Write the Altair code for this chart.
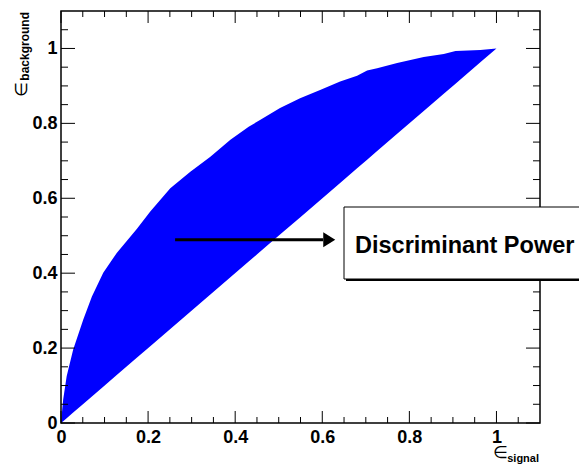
import altair as alt
import pandas as pd

# ROC-like upper boundary of the blue region (signal eff., background eff.)
curve_x = [0.0, 0.005, 0.013, 0.028, 0.051, 0.071, 0.097, 0.128, 0.174, 0.205,
           0.251, 0.297, 0.343, 0.389, 0.431, 0.457, 0.503, 0.549, 0.595, 0.641,
           0.680, 0.703, 0.726, 0.772, 0.833, 0.879, 0.906, 0.963, 1.0]
curve_y = [0.0, 0.063, 0.125, 0.196, 0.276, 0.338, 0.401, 0.454, 0.518, 0.565,
           0.627, 0.671, 0.711, 0.756, 0.791, 0.809, 0.841, 0.867, 0.889, 0.912,
           0.927, 0.941, 0.947, 0.961, 0.977, 0.985, 0.993, 0.996, 1.0]

major_ticks = [0.0, 0.2, 0.4, 0.6, 0.8, 1.0]
minor_ticks = [0.05, 0.1, 0.15, 0.25, 0.3, 0.35, 0.45, 0.5, 0.55, 0.65, 0.7, 0.75,
               0.85, 0.9, 0.95, 1.05]
axis_domain = [0.0, 1.1]

arrow_start = [0.262, 0.489]
arrow_end = [0.602, 0.489]
arrow_tip = [0.616, 0.489]

label_text = "Discriminant Power"
x_title = ["\u2208", "signal"]
y_title = ["\u2208", "background"]

W, H = 479, 412
FONT = "Liberation Sans"

df = pd.DataFrame({"x": curve_x, "upper": curve_y, "lower": curve_x})

xaxis = alt.Axis(values=major_ticks, format="~g", title=None, ticks=False, tickSize=0,
                 domain=False, grid=False, labelFont=FONT, labelFontWeight="bold",
                 labelFontSize=18, labelColor="black", labelPadding=5,
                 labelFlush=False, labelOverlap=False)
yaxis = alt.Axis(values=major_ticks, format="~g", title=None, ticks=False, tickSize=0,
                 domain=False, grid=False, labelFont=FONT, labelFontWeight="bold",
                 labelFontSize=18, labelColor="black", labelPadding=4,
                 labelFlush=False, labelOverlap=False)
xs = alt.Scale(domain=axis_domain, nice=False, zero=False)
ys = alt.Scale(domain=axis_domain, nice=False, zero=False)


def X(f):
    return alt.X(f, type="quantitative", scale=xs, axis=xaxis)


def Y(f):
    return alt.Y(f, type="quantitative", scale=ys, axis=yaxis)


area = alt.Chart(df).mark_area(color="#0000ff", opacity=1, interpolate="linear").encode(
    x=X("x"), y=Y("upper"), y2="lower")

one = pd.DataFrame({"a": [0]})

layers = [area]

# ticks (inside the frame, all four sides)
for vals, L_b, L_l in [(major_ticks, 12, 14), (minor_ticks, 6, 7)]:
    tdf = pd.DataFrame({"v": vals})
    layers.append(alt.Chart(tdf).mark_rule(color="black", strokeWidth=1).encode(
        x=X("v"), y=alt.value(H), y2=alt.value(H - L_b)))
    layers.append(alt.Chart(tdf).mark_rule(color="black", strokeWidth=1).encode(
        x=X("v"), y=alt.value(0), y2=alt.value(L_b)))
    layers.append(alt.Chart(tdf).mark_rule(color="black", strokeWidth=1).encode(
        y=Y("v"), x=alt.value(0), x2=alt.value(L_l)))
    layers.append(alt.Chart(tdf).mark_rule(color="black", strokeWidth=1).encode(
        y=Y("v"), x=alt.value(W), x2=alt.value(W - L_l)))

# frame
layers.append(alt.Chart(one).mark_rect(fillOpacity=0, stroke="black", strokeWidth=1.5).encode(
    x=alt.value(0), x2=alt.value(W), y=alt.value(0), y2=alt.value(H)))

# arrow
adf = pd.DataFrame({"x": [arrow_start[0]], "x2": [arrow_end[0]], "y": [arrow_start[1]]})
layers.append(alt.Chart(adf).mark_rule(color="black", strokeWidth=3).encode(
    x=X("x"), x2="x2", y=Y("y")))
hdf = pd.DataFrame({"x": [arrow_tip[0]], "y": [arrow_tip[1]]})
layers.append(alt.Chart(hdf).mark_point(shape="M-0.8,-1L0.8,0L-0.8,1Z", size=225, filled=True,
                                        color="black", opacity=1, strokeWidth=0).encode(
    x=X("x"), y=Y("y")))

# label box with shadow
layers.append(alt.Chart(one).mark_rect(color="black").encode(
    x=alt.value(285), x2=alt.value(620), y=alt.value(198), y2=alt.value(270)))
layers.append(alt.Chart(one).mark_rect(fill="white", stroke="black", strokeWidth=1).encode(
    x=alt.value(283), x2=alt.value(620), y=alt.value(196), y2=alt.value(268)))
layers.append(alt.Chart(one).mark_text(text=label_text, align="left", baseline="alphabetic",
                                       font=FONT, fontSize=23.5, fontWeight="bold",
                                       color="black").encode(
    x=alt.value(294), y=alt.value(242)))

# axis titles
layers.append(alt.Chart(one).mark_text(text=x_title[0], align="right", baseline="alphabetic",
                                       font="DejaVu Sans", fontSize=17, color="black").encode(
    x=alt.value(447), y=alt.value(447)))
layers.append(alt.Chart(one).mark_text(text=x_title[1], align="right", baseline="alphabetic",
                                       font=FONT, fontSize=11, fontWeight="bold",
                                       color="black").encode(
    x=alt.value(478), y=alt.value(451)))
layers.append(alt.Chart(one).mark_text(text=y_title[0], align="right", baseline="alphabetic",
                                       angle=270, font="DejaVu Sans", fontSize=17,
                                       color="black").encode(
    x=alt.value(-34), y=alt.value(71)))
layers.append(alt.Chart(one).mark_text(text=y_title[1], align="right", baseline="alphabetic",
                                       angle=270, font=FONT, fontSize=12, fontWeight="bold",
                                       color="black").encode(
    x=alt.value(-32), y=alt.value(1)))

chart = alt.layer(*layers).properties(
    width=W, height=H,
    autosize=alt.AutoSizeParams(type="none"),
    padding={"left": 53, "top": 3, "right": 39, "bottom": 43},
    background="white",
).configure_view(stroke=None)

chart.save("out.html", embed_options={"renderer": "svg", "actions": False})
